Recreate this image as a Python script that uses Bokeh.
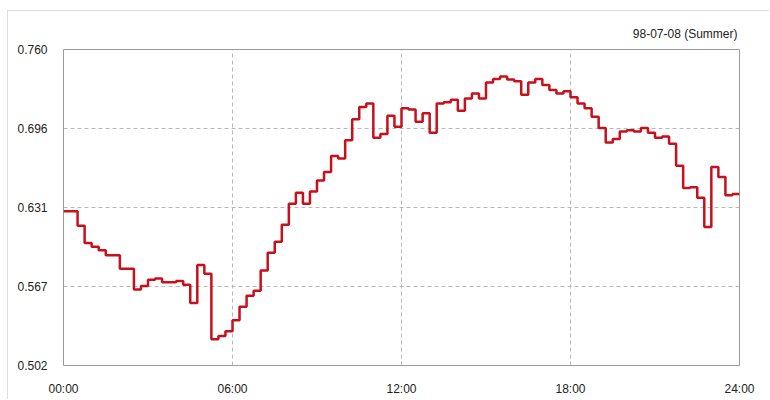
from bokeh.plotting import figure
from bokeh.models import FixedTicker, Range1d
from bokeh.embed import file_html
from bokeh.resources import INLINE

# quarter-hour load values for 98-07-08 (Summer)
values = [
    0.628, 0.628, 0.616, 0.602, 0.599, 0.596, 0.592, 0.592,
    0.581, 0.581, 0.564, 0.567, 0.572, 0.573, 0.570, 0.570,
    0.571, 0.568, 0.553, 0.584, 0.577, 0.5235, 0.526, 0.530,
    0.539, 0.550, 0.559, 0.563, 0.5795, 0.594, 0.603, 0.617,
    0.634, 0.643, 0.634, 0.644, 0.653, 0.660, 0.673, 0.671,
    0.686, 0.703, 0.713, 0.716, 0.688, 0.691, 0.706, 0.697,
    0.712, 0.711, 0.701, 0.708, 0.692, 0.716, 0.717, 0.719,
    0.710, 0.720, 0.724, 0.720, 0.733, 0.736, 0.738, 0.7355,
    0.734, 0.723, 0.733, 0.736, 0.731, 0.727, 0.724, 0.726,
    0.721, 0.716, 0.712, 0.705, 0.696, 0.684, 0.687, 0.693,
    0.694, 0.693, 0.696, 0.692, 0.688, 0.689, 0.683, 0.665,
    0.647, 0.6475, 0.639, 0.615, 0.664, 0.656, 0.641, 0.642,
]
hours = [i * 0.25 for i in range(len(values))] + [24.0]
step_values = values + [values[-1]]

x_ticks = [0, 6, 12, 18, 24]
x_labels = ["00:00", "06:00", "12:00", "18:00", "24:00"]
y_ticks = [0.502, 0.5665, 0.631, 0.6955, 0.760]
y_labels = ["0.502", "0.567", "0.631", "0.696", "0.760"]
title_text = "98-07-08 (Summer)"

FONT = "Liberation Sans"

p = figure(
    frame_width=676, frame_height=316,
    min_border_left=55, min_border_top=38, min_border_right=30, min_border_bottom=34,
    x_range=Range1d(0, 24), y_range=Range1d(0.502, 0.760),
    output_backend="svg", toolbar_location=None,
    title=title_text,
)
p.margin = (10, 0, 0, 7)
p.styles = {"border-top": "1px solid #dcdcdc", "border-left": "1px solid #dcdcdc"}

p.title.align = "right"
p.title.text_font = FONT
p.title.text_font_size = "12px"
p.title.text_font_style = "normal"
p.title.text_color = "#222222"
p.title.standoff = 18
p.title.offset = 2

p.background_fill_color = "white"
p.border_fill_color = "white"
p.outline_line_color = "#9a9a9a"
p.outline_line_width = 1

p.step(hours, step_values, mode="after", line_color="#c8101c", line_width=2.5)

p.xaxis.ticker = FixedTicker(ticks=x_ticks)
p.xaxis.major_label_overrides = {t: l for t, l in zip(x_ticks, x_labels)}
p.yaxis.ticker = FixedTicker(ticks=y_ticks)
p.yaxis.major_label_overrides = {t: l for t, l in zip(y_ticks, y_labels)}

for ax in (p.xaxis, p.yaxis):
    ax.axis_line_color = None
    ax.major_tick_line_color = None
    ax.minor_tick_line_color = None
    ax.major_label_text_font = FONT
    ax.major_label_text_font_size = "12px"
    ax.major_label_text_color = "#222222"
    ax.major_label_standoff = 10

for g in (p.xgrid, p.ygrid):
    g.grid_line_color = "#b8b8b8"
    g.grid_line_dash = "4 3"
    g.grid_line_width = 1

open("out.html", "w").write(file_html(p, INLINE))
